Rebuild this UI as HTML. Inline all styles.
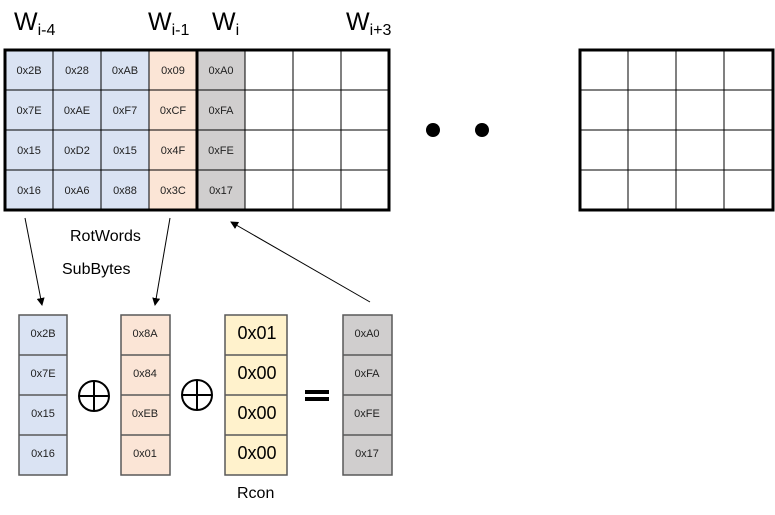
<!DOCTYPE html>
<html><head><style>
body{margin:0;width:775px;height:515px;background:#fff;font-family:"Liberation Sans",sans-serif;position:relative;overflow:hidden}
.a{position:absolute}
.h{font-size:25px;color:#000}
.h sub{font-size:16px;vertical-align:-5px}
</style></head><body>
<div class="a h" style="left:14px;top:8px">W<sub>i-4</sub></div>
<div class="a h" style="left:148px;top:8px">W<sub>i-1</sub></div>
<div class="a h" style="left:212px;top:8px">W<sub>i</sub></div>
<div class="a h" style="left:346px;top:8px">W<sub>i+3</sub></div>
<svg class="a" style="left:0;top:0" width="775" height="515" font-family="Liberation Sans, sans-serif">
<defs><marker id="m" markerWidth="8" markerHeight="8" refX="7" refY="4" orient="auto"><path d="M0,0 L8,4 L0,8 z" fill="#000"/></marker></defs>
<g font-size="11" text-anchor="middle" fill="#222">
<rect x="5" y="50" width="144" height="160" fill="#dae3f3"/>
<rect x="149" y="50" width="48" height="160" fill="#fbe5d6"/>
<rect x="197" y="50" width="48" height="160" fill="#d0cece"/>
<g stroke="#000" stroke-width="1">
<line x1="53" y1="50" x2="53" y2="210"/><line x1="101" y1="50" x2="101" y2="210"/><line x1="149" y1="50" x2="149" y2="210"/><line x1="245" y1="50" x2="245" y2="210"/><line x1="293" y1="50" x2="293" y2="210"/><line x1="341" y1="50" x2="341" y2="210"/>
<line x1="5" y1="90" x2="389" y2="90"/><line x1="5" y1="130" x2="389" y2="130"/><line x1="5" y1="170" x2="389" y2="170"/>
</g>
<rect x="5" y="50" width="384" height="160" fill="none" stroke="#000" stroke-width="3"/>
<line x1="197" y1="50" x2="197" y2="210" stroke="#000" stroke-width="3"/>
<text x="29" y="74">0x2B</text><text x="77" y="74">0x28</text><text x="125" y="74">0xAB</text><text x="173" y="74">0x09</text><text x="221" y="74">0xA0</text>
<text x="29" y="114">0x7E</text><text x="77" y="114">0xAE</text><text x="125" y="114">0xF7</text><text x="173" y="114">0xCF</text><text x="221" y="114">0xFA</text>
<text x="29" y="154">0x15</text><text x="77" y="154">0xD2</text><text x="125" y="154">0x15</text><text x="173" y="154">0x4F</text><text x="221" y="154">0xFE</text>
<text x="29" y="194">0x16</text><text x="77" y="194">0xA6</text><text x="125" y="194">0x88</text><text x="173" y="194">0x3C</text><text x="221" y="194">0x17</text>

<g stroke="#000" stroke-width="1">
<line x1="628" y1="50" x2="628" y2="210"/><line x1="676" y1="50" x2="676" y2="210"/><line x1="724" y1="50" x2="724" y2="210"/>
<line x1="580" y1="90" x2="773" y2="90"/><line x1="580" y1="130" x2="773" y2="130"/><line x1="580" y1="170" x2="773" y2="170"/>
</g>
<rect x="580" y="50" width="193" height="160" fill="none" stroke="#000" stroke-width="3"/>
<circle cx="433" cy="130" r="7" fill="#000"/><circle cx="482" cy="130" r="7" fill="#000"/>

<g stroke="#595959" stroke-width="1.5">
<rect x="19" y="315" width="48" height="160" fill="#dae3f3"/>
<line x1="19" y1="355" x2="67" y2="355"/><line x1="19" y1="395" x2="67" y2="395"/><line x1="19" y1="435" x2="67" y2="435"/>
<rect x="121" y="315" width="49" height="160" fill="#fbe5d6"/>
<line x1="121" y1="355" x2="170" y2="355"/><line x1="121" y1="395" x2="170" y2="395"/><line x1="121" y1="435" x2="170" y2="435"/>
<rect x="225" y="315" width="62" height="160" fill="#fff2cc"/>
<line x1="225" y1="355" x2="287" y2="355"/><line x1="225" y1="395" x2="287" y2="395"/><line x1="225" y1="435" x2="287" y2="435"/>
<rect x="343" y="315" width="49" height="160" fill="#d0cece"/>
<line x1="343" y1="355" x2="392" y2="355"/><line x1="343" y1="395" x2="392" y2="395"/><line x1="343" y1="435" x2="392" y2="435"/>
</g>
<text x="43" y="337">0x2B</text><text x="43" y="377">0x7E</text><text x="43" y="417">0x15</text><text x="43" y="457">0x16</text>
<text x="145" y="337">0x8A</text><text x="145" y="377">0x84</text><text x="145" y="417">0xEB</text><text x="145" y="457">0x01</text>
<text x="367" y="337">0xA0</text><text x="367" y="377">0xFA</text><text x="367" y="417">0xFE</text><text x="367" y="457">0x17</text>
</g>
<g font-size="18" text-anchor="middle" fill="#000">
<text x="257" y="339">0x01</text><text x="257" y="379">0x00</text><text x="257" y="419">0x00</text><text x="257" y="459">0x00</text>
</g>
<g stroke="#000" stroke-width="2" fill="none">
<circle cx="94" cy="396" r="15"/><line x1="79" y1="396" x2="109" y2="396"/><line x1="94" y1="381" x2="94" y2="411"/>
<circle cx="197" cy="395" r="15"/><line x1="182" y1="395" x2="212" y2="395"/><line x1="197" y1="380" x2="197" y2="410"/>
</g>
<rect x="305" y="390" width="24" height="4" fill="#000"/><rect x="305" y="397" width="24" height="4" fill="#000"/>
<g stroke="#000" stroke-width="1" marker-end="url(#m)">
<line x1="25" y1="218" x2="42" y2="305"/>
<line x1="170" y1="218" x2="155" y2="305"/>
<line x1="370" y1="302" x2="231" y2="222"/>
</g>
<g font-size="16" fill="#000">
<text x="70" y="241">RotWords</text>
<text x="62" y="274">SubBytes</text>
<text x="237" y="498">Rcon</text>
</g>
</svg>
</body></html>
